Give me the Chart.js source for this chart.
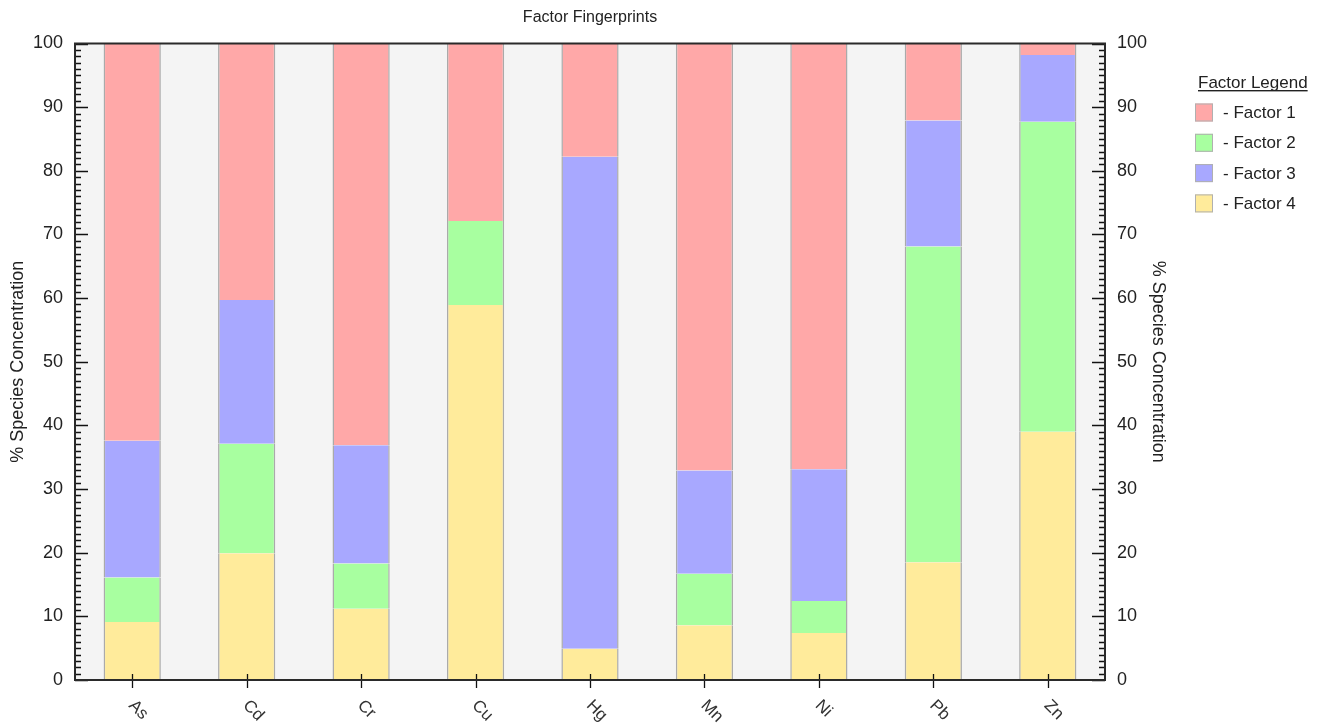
<!DOCTYPE html>
<html>
<head>
<meta charset="utf-8">
<title>Factor Fingerprints</title>
<script src="https://cdn.jsdelivr.net/npm/chart.js@4"></script>
<style>
  html, body { margin: 0; padding: 0; background: #ffffff; }
  #wrap { width: 1321px; height: 724px; }
</style>
</head>
<body>
<div id="wrap"><canvas id="chart" width="1321" height="724"></canvas></div>
<script>
// Species (categories) and each factor's share of the species, in percent
const elements = ['As', 'Cd', 'Cr', 'Cu', 'Hg', 'Mn', 'Ni', 'Pb', 'Zn'];
const factor1 = [62.4, 40.3, 63.1, 27.9, 17.8, 67.1, 66.9, 12.1, 1.8];
const factor2 = [7.0, 17.2, 7.1, 13.2, 0.0, 8.1, 5.0, 49.6, 48.7];
const factor3 = [21.5, 22.6, 18.6, 0.0, 77.3, 16.2, 20.7, 19.8, 10.5];
const factor4 = [9.1, 19.9, 11.2, 58.9, 4.9, 8.6, 7.4, 18.5, 39.0];
const factorLabels = ['Factor 1', 'Factor 2', 'Factor 3', 'Factor 4'];
const yTicks = [0, 10, 20, 30, 40, 50, 60, 70, 80, 90, 100];

const FONT = "'Liberation Sans', Arial, Helvetica, sans-serif";
const COLORS = {
  'Factor 1': '#ffa8a8',
  'Factor 2': '#a8ffa0',
  'Factor 3': '#a8a8ff',
  'Factor 4': '#ffeb9b'
};
const TEXT = '#222222';

// Plot background, tick marks, frame, rotated category labels and the legend box
const decorations = {
  id: 'decorations',
  beforeDraw(chart) {
    const { ctx, chartArea: a } = chart;
    ctx.save();
    ctx.fillStyle = '#f4f4f4';
    ctx.fillRect(a.left, a.top, a.right - a.left, a.bottom - a.top);
    ctx.restore();
  },
  afterDraw(chart) {
    const { ctx, chartArea: a, scales } = chart;
    const y = scales.y, x = scales.x;
    ctx.save();

    // minor (every 1) and major (every 10) ticks on both value axes, pointing inward
    ctx.strokeStyle = '#111111';
    ctx.lineWidth = 1.3;
    for (let v = y.min; v <= y.max; v++) {
      const py = Math.round(y.getPixelForValue(v)) + 0.5;
      const len = v % 10 === 0 ? 13 : 6;
      ctx.beginPath();
      ctx.moveTo(a.left, py); ctx.lineTo(a.left + len, py);
      ctx.moveTo(a.right, py); ctx.lineTo(a.right - len, py);
      ctx.stroke();
    }

    // category ticks across the bottom axis
    elements.forEach((_, i) => {
      const px = Math.round(x.getPixelForValue(i)) + 0.5;
      ctx.beginPath();
      ctx.moveTo(px, a.bottom - 6);
      ctx.lineTo(px, a.bottom + 8);
      ctx.stroke();
    });

    // plot frame
    ctx.strokeStyle = '#2a2a2a';
    ctx.lineWidth = 2;
    ctx.strokeRect(a.left, a.top, a.right - a.left, a.bottom - a.top);

    // category labels, turned 45 degrees clockwise
    ctx.fillStyle = '#333333';
    ctx.font = '17px ' + FONT;
    ctx.textAlign = 'left';
    ctx.textBaseline = 'middle';
    elements.forEach((lab, i) => {
      const px = x.getPixelForValue(i);
      ctx.save();
      ctx.translate(px - 1, a.bottom + 23);
      ctx.rotate(Math.PI / 4);
      ctx.fillText(lab, 0, 0);
      ctx.restore();
    });

    // legend
    const lx = 1195;
    ctx.fillStyle = TEXT;
    ctx.font = '17px ' + FONT;
    ctx.textBaseline = 'alphabetic';
    const legendTitle = 'Factor Legend';
    ctx.fillText(legendTitle, lx + 3, 88);
    const tw = ctx.measureText(legendTitle).width;
    ctx.fillRect(lx + 3, 90, tw, 1.4);
    ctx.textBaseline = 'middle';
    factorLabels.forEach((lab, i) => {
      const cy = 112.5 + i * 30.3;
      ctx.fillStyle = COLORS[lab];
      ctx.fillRect(lx, cy - 9, 18, 18);
      ctx.strokeStyle = '#b0b0b0';
      ctx.lineWidth = 1;
      ctx.strokeRect(lx + 0.5, cy - 8.5, 17, 17);
      ctx.fillStyle = TEXT;
      ctx.fillText('- ' + lab, lx + 28, cy + 1);
    });

    ctx.restore();
  }
};

const valueAxis = (position, titlePad, width) => ({
  position: position,
  min: 0,
  max: 100,
  afterBuildTicks(scale) { scale.ticks = yTicks.map(v => ({ value: v })); },
  ticks: { font: { family: FONT, size: 18 }, color: TEXT, padding: 12 },
  grid: { display: false, drawTicks: false },
  border: { display: false },
  title: {
    display: true,
    text: '% Species Concentration',
    font: { family: FONT, size: 18 },
    color: TEXT,
    padding: { top: titlePad, bottom: 0 }
  },
  afterFit(scale) { scale.width = width; }
});

const barStyle = {
  borderColor: '#aaaaaa',
  borderWidth: { left: 1.5, right: 1.5, top: 0, bottom: 0 },
  borderSkipped: false,
  categoryPercentage: 1.0,
  barPercentage: 0.5
};

// stacked from the bottom up: Factor 4, Factor 2, Factor 3, Factor 1
new Chart(document.getElementById('chart'), {
  type: 'bar',
  data: {
    labels: elements,
    datasets: [
      Object.assign({ label: 'Factor 4', data: factor4, backgroundColor: COLORS['Factor 4'] }, barStyle),
      Object.assign({ label: 'Factor 2', data: factor2, backgroundColor: COLORS['Factor 2'] }, barStyle),
      Object.assign({ label: 'Factor 3', data: factor3, backgroundColor: COLORS['Factor 3'] }, barStyle),
      Object.assign({ label: 'Factor 1', data: factor1, backgroundColor: COLORS['Factor 1'] }, barStyle)
    ]
  },
  options: {
    responsive: false,
    animation: false,
    devicePixelRatio: 1,
    layout: { padding: { left: 0, right: 136, top: 0, bottom: 0 } },
    plugins: {
      legend: { display: false },
      tooltip: { enabled: false },
      title: {
        display: true,
        text: 'Factor Fingerprints',
        fullSize: false,
        color: TEXT,
        font: { family: FONT, size: 16, weight: 'normal' },
        padding: { top: 8, bottom: 16.3 }
      }
    },
    scales: {
      x: {
        stacked: true,
        grid: { display: false },
        border: { display: false },
        ticks: { display: false },
        afterFit(scale) { scale.height = 44; }
      },
      y: Object.assign({ stacked: true }, valueAxis('left', 7, 75)),
      y2: valueAxis('right', 16, 80)
    }
  },
  plugins: [decorations]
});
</script>
</body>
</html>
